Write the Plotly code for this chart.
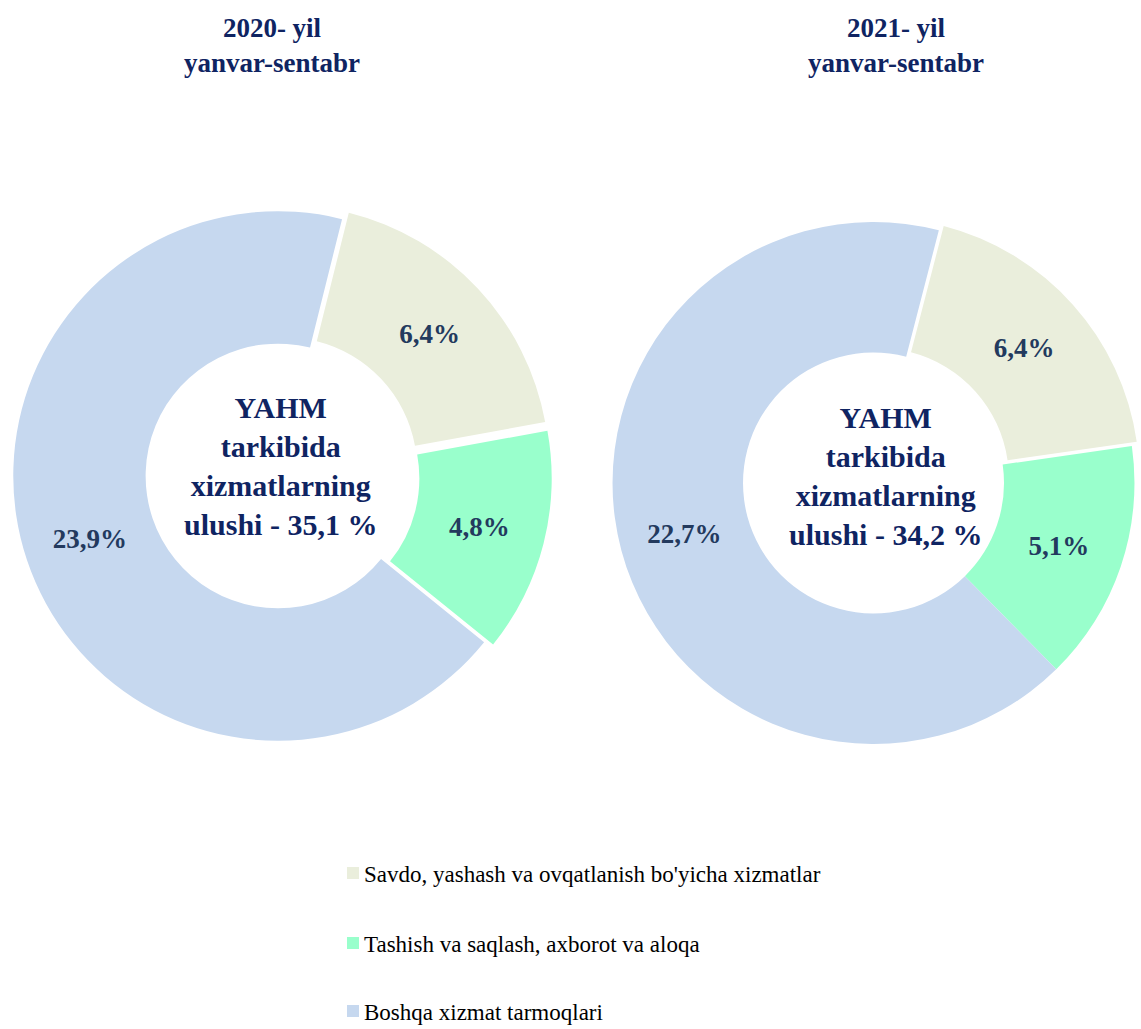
import plotly.graph_objects as go

# ---- data ----
categories = [
    "Savdo, yashash va ovqatlanish bo'yicha xizmatlar",
    "Tashish va saqlash, axborot va aloqa",
    "Boshqa xizmat tarmoqlari",
]
values_2020 = [6.4, 4.8, 23.9]
values_2021 = [6.4, 5.1, 22.7]
titles = ["2020- yil<br>yanvar-sentabr", "2021- yil<br>yanvar-sentabr"]
center_prefix = "YAHM<br>tarkibida<br>xizmatlarning<br>ulushi - "
colors = ["#EAEEDC", "#99FFCC", "#C6D8EF"]

W, H = 1141, 1029
SERIF = "Liberation Serif, Times New Roman, serif"
NAVY = "#0F2462"
LABEL = "#233A5E"


def fmt(v):
    return f"{v:.1f}".replace(".", ",")


def px_x(v):
    return v / W


def px_y(v):
    return 1 - v / H


fig = go.Figure()

# left donut (center ~ (278, 476) px, R ~ 265)
fig.add_trace(go.Pie(
    labels=categories, values=values_2020, sort=False, direction="clockwise",
    rotation=14, hole=0.5, pull=[0.035, 0.035, 0],
    marker=dict(colors=colors, line=dict(width=0)),
    text=["<b>" + fmt(v) + "%</b>" for v in values_2020], textinfo="text",
    textposition="inside", insidetextorientation="horizontal",
    textfont=dict(family=SERIF, size=27, color=LABEL),
    domain=dict(x=[px_x(4), px_x(552)], y=[279 / H, 827 / H]),
    showlegend=False, hoverinfo="label+value",
))

# right donut (center ~ (878, 483) px)
fig.add_trace(go.Pie(
    labels=categories, values=values_2021, sort=False, direction="clockwise",
    rotation=14.5, hole=0.5, pull=[0.025, 0, 0],
    marker=dict(colors=colors, line=dict(width=0)),
    text=["<b>" + fmt(v) + "%</b>" for v in values_2021], textinfo="text",
    textposition="inside", insidetextorientation="horizontal",
    textfont=dict(family=SERIF, size=27, color=LABEL),
    domain=dict(x=[px_x(606), 1.0], y=[271 / H, 821 / H]),
    showlegend=False, hoverinfo="label+value",
))

annotations = []
# titles
for t, cx in zip(titles, [272, 896]):
    annotations.append(dict(
        x=px_x(cx), y=px_y(45), xref="paper", yref="paper",
        text="<b>" + t + "</b>", showarrow=False, xanchor="center", yanchor="middle",
        font=dict(family=SERIF, size=27, color=NAVY),
    ))
# center texts
for vals, (cx, cy) in zip([values_2020, values_2021], [(280, 466), (885, 476)]):
    total = round(sum(vals), 1)
    annotations.append(dict(
        x=px_x(cx), y=px_y(cy), xref="paper", yref="paper",
        text="<b>" + center_prefix + fmt(total) + " %</b>", showarrow=False,
        xanchor="center", yanchor="middle",
        font=dict(family=SERIF, size=30, color=NAVY),
    ))

# legend (manual)
shapes = []
row_y = [873, 943, 1011]
for cat, col, ry in zip(categories, colors, row_y):
    shapes.append(dict(
        type="rect", xref="paper", yref="paper",
        x0=px_x(347), x1=px_x(359), y0=px_y(ry + 6), y1=px_y(ry - 6),
        fillcolor=col, line=dict(width=0),
    ))
    annotations.append(dict(
        x=px_x(362), y=px_y(ry + 1), xref="paper", yref="paper",
        text=cat, showarrow=False, xanchor="left", yanchor="middle",
        font=dict(family=SERIF, size=23, color="#000000"),
    ))

fig.update_layout(
    width=W, height=H, autosize=False,
    margin=dict(l=0, r=0, t=0, b=0),
    paper_bgcolor="white", plot_bgcolor="white",
    annotations=annotations, shapes=shapes,
    showlegend=False,
)

fig.write_html(
    "out.html",
    config={"displayModeBar": False},
    post_script="document.body.style.margin='0px';document.body.style.overflow='hidden';",
)
